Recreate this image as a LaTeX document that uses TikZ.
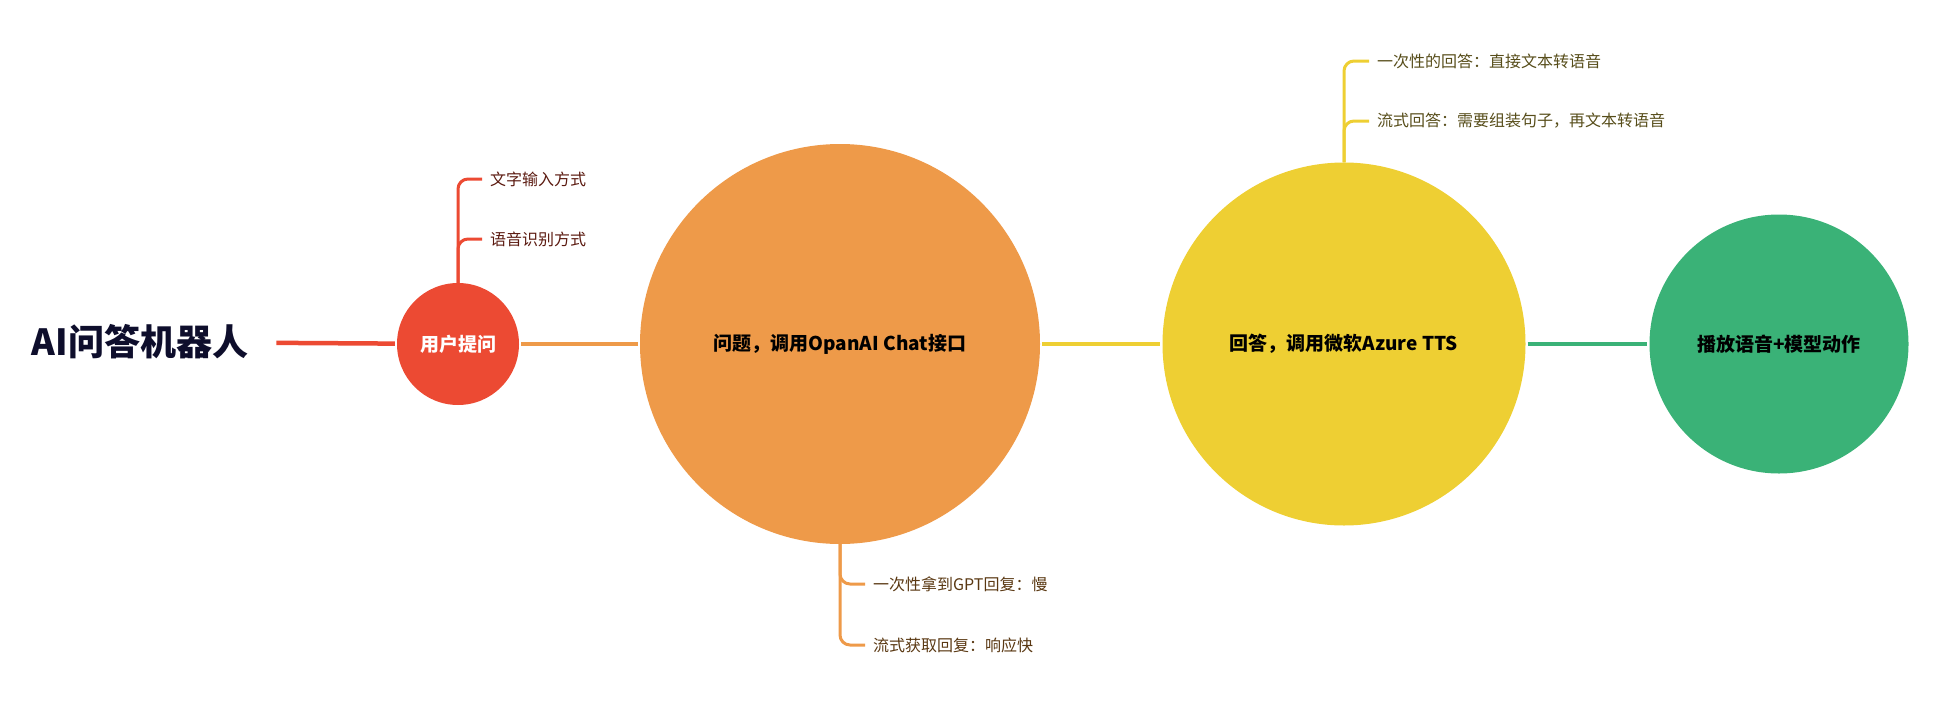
\documentclass[tikz,border=0pt]{standalone}
\usepackage{fontspec}
\setmainfont{Noto Sans CJK SC}
\usepackage{tikz}
\usetikzlibrary{positioning}

\definecolor{RedFill}{HTML}{EC4A33}
\definecolor{OrangeFill}{HTML}{EE9A49}
\definecolor{YellowFill}{HTML}{EECF33}
\definecolor{GreenFill}{HTML}{3AB277}
\definecolor{TitleInk}{HTML}{0E0E2C}
\definecolor{RedInk}{HTML}{5B1A10}
\definecolor{OrangeInk}{HTML}{5A3812}
\definecolor{YellowInk}{HTML}{574D1A}

\begin{document}
\begin{tikzpicture}[x=1pt, y=-1pt]
			\tikzstyle{Topic}	= [circle, inner sep=0pt, font=\fontsize{19}{22}\selectfont\bfseries, text=black]
			\tikzstyle{Leaf}	= [anchor=west, inner xsep=8pt, inner ysep=2pt, font=\fontsize{16}{19}\selectfont]
			\tikzstyle{Main}	= [line width=4.5pt, shorten <=2pt, shorten >=2pt]
			\tikzstyle{Twig}	= [line width=3pt, rounded corners=10pt]
			
			\useasboundingbox (0,0) rectangle (1941,707);
			
			\node (title) at (140,342) [inner xsep=14pt, font=\fontsize{36}{40}\selectfont\bfseries, text=TitleInk] {AI问答机器人};
			\node (ask)  at (458,344)  [Topic, fill=RedFill, minimum size=122pt, text=white] {用户提问};
			\node (chat) at (840,344)  [Topic, fill=OrangeFill, minimum size=400pt] {问题，调用OpanAI Chat接口};
			\node (tts)  at (1344,344) [Topic, fill=YellowFill, minimum size=363pt] {回答，调用微软Azure TTS};
			\node (play) at (1779,344) [Topic, fill=GreenFill, minimum size=259pt] {播放语音+模型动作};
			
			\node (ask1)  at (482,179)  [Leaf, text=RedInk] {文字输入方式};
			\node (ask2)  at (482,239)  [Leaf, text=RedInk] {语音识别方式};
			\node (chat1) at (865,584)  [Leaf, text=OrangeInk] {一次性拿到GPT回复：慢};
			\node (chat2) at (865,645)  [Leaf, text=OrangeInk] {流式获取回复：响应快};
			\node (tts1)  at (1369,61)  [Leaf, text=YellowInk] {一次性的回答：直接文本转语音};
			\node (tts2)  at (1369,121) [Leaf, text=YellowInk] {流式回答：需要组装句子，再文本转语音};
			
			\draw [-] (title) to (ask) [Main, RedFill, shorten <=14pt];
			\draw [-] (ask) to (chat) [Main, OrangeFill];
			\draw [-] (chat) to (tts) [Main, YellowFill];
			\draw [-] (tts) to (play) [Main, GreenFill];
			
			\draw [Twig, RedFill] (ask.north) |- (ask1.west);
			\draw [Twig, RedFill] (ask.north) |- (ask2.west);
			\draw [Twig, OrangeFill] (chat.south) |- (chat1.west);
			\draw [Twig, OrangeFill] (chat.south) |- (chat2.west);
			\draw [Twig, YellowFill] (tts.north) |- (tts1.west);
			\draw [Twig, YellowFill] (tts.north) |- (tts2.west);
		\end{tikzpicture}
\end{document}
